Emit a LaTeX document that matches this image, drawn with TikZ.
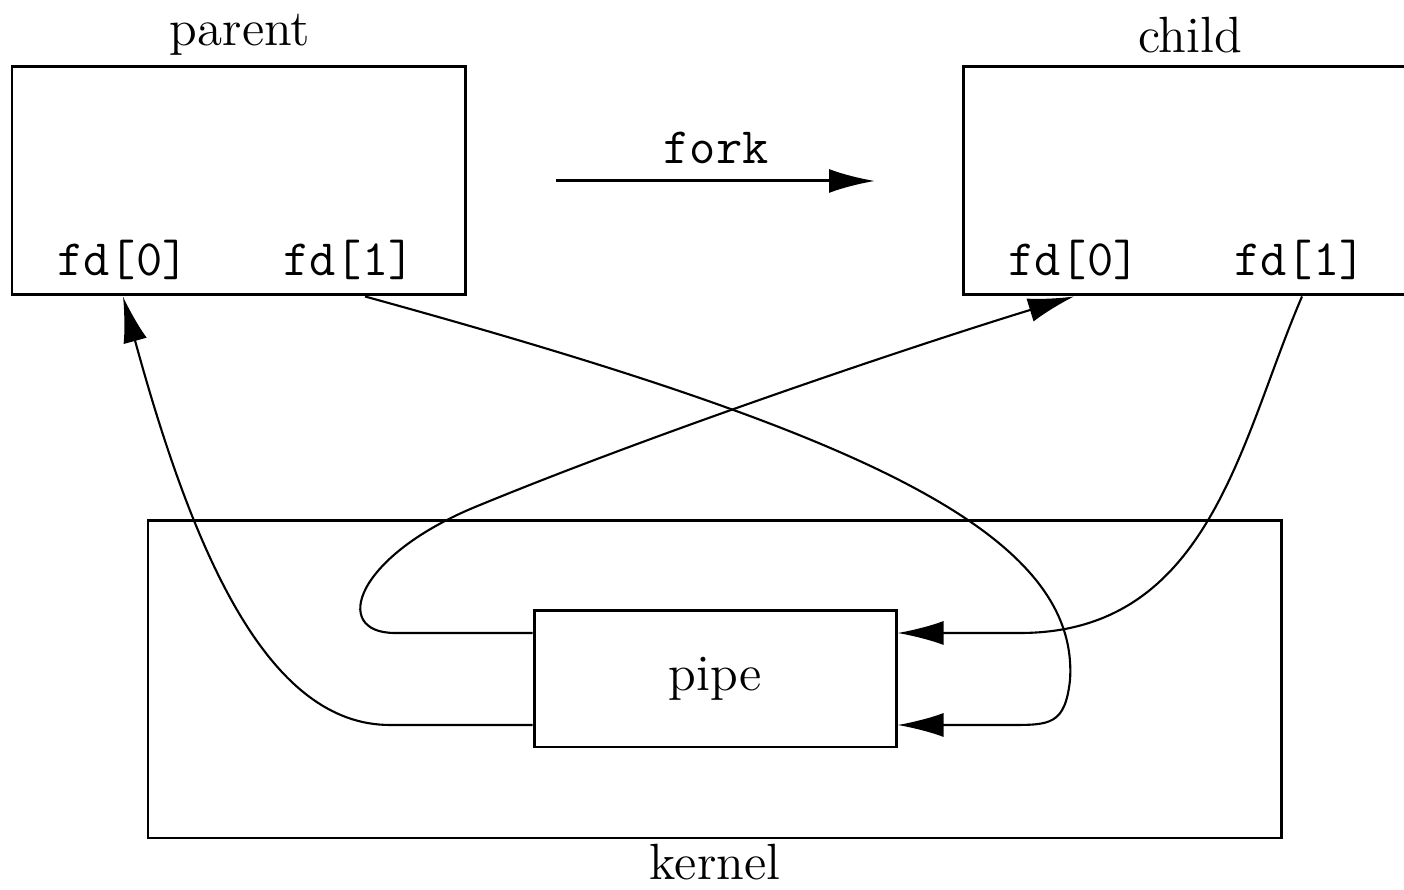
\documentclass[tikz,border=0pt]{standalone}
\usetikzlibrary{arrows.meta}
\tikzset{
  box/.style={draw,line width=0.85pt,inner sep=0pt},
  lbl/.style={font=\fontsize{14.5}{17}\selectfont},
  code/.style={font=\fontsize{14.5}{17}\ttfamily},
  conn/.style={line width=0.6pt},
  tip/.style={-{Latex[length=4.6mm,width=2.4mm]}}
}
\begin{document}
\begin{tikzpicture}
\useasboundingbox (0,0) rectangle (14.04,8.90);
% processes
\node[box,minimum width=4.53cm,minimum height=2.28cm] (parent) at (2.385,7.09) {};
\node[box,minimum width=4.53cm,minimum height=2.28cm] (child) at (11.895,7.09) {};
\node[lbl] (ptitle) at (2.4,8.55) {parent};
\node[lbl] (ctitle) at (11.9,8.55) {child};
\node[code] (pfd0) at (1.23,6.3) {fd[0]};
\node[code] (pfd1) at (3.49,6.3) {fd[1]};
\node[code] (cfd0) at (10.74,6.3) {fd[0]};
\node[code] (cfd1) at (13.0,6.3) {fd[1]};
% fork
\node[code] (fork) at (7.16,7.42) {fork};
\coordinate (fa) at (5.56,7.09);
\coordinate (fb) at (8.75,7.09);
\draw[conn,tip,line width=0.85pt] (fa)--(fb);
% kernel and pipe
\node[box,minimum width=11.33cm,minimum height=3.17cm] (kernel) at (7.145,2.105) {};
\node[lbl] (ktitle) at (7.15,0.28) {kernel};
\node[box,minimum width=3.62cm,minimum height=1.36cm,lbl] (pipe) at (7.15,2.11) {pipe};
\coordinate (p0) at (pfd0 |- parent.south);
\coordinate (p1) at ([xshift=0.16cm]pfd1 |- parent.south);
\coordinate (c0) at (cfd0 |- child.south);
\coordinate (c1) at ([xshift=0.02cm]cfd1 |- child.south);
\coordinate (inhi) at ([yshift=0.46cm]pipe.east);
\coordinate (inlo) at ([yshift=-0.46cm]pipe.east);
\coordinate (outhi) at ([yshift=0.46cm]pipe.west);
\coordinate (outlo) at ([yshift=-0.46cm]pipe.west);
% descriptors
\draw[conn,tip] (outlo)--(3.9,1.65) .. controls (2.7,1.65) and (1.95,3.3) .. (p0);
\draw[conn,tip] (outhi)--(3.95,2.57) .. controls (3.3,2.57) and (3.55,3.35) .. (4.8,3.85) .. controls (6.5,4.55) and (9.0,5.4) .. (c0);
\draw[conn,tip] (p1) .. controls (8.5,4.6) and (10.8,3.6) .. (10.7,2.1) .. controls (10.65,1.65) and (10.5,1.65) .. (10.1,1.65)--(inlo);
\draw[conn,tip] (c1) .. controls (12.4,4.5) and (12.1,2.57) .. (10.2,2.57)--(inhi);
\end{tikzpicture}
\end{document}
